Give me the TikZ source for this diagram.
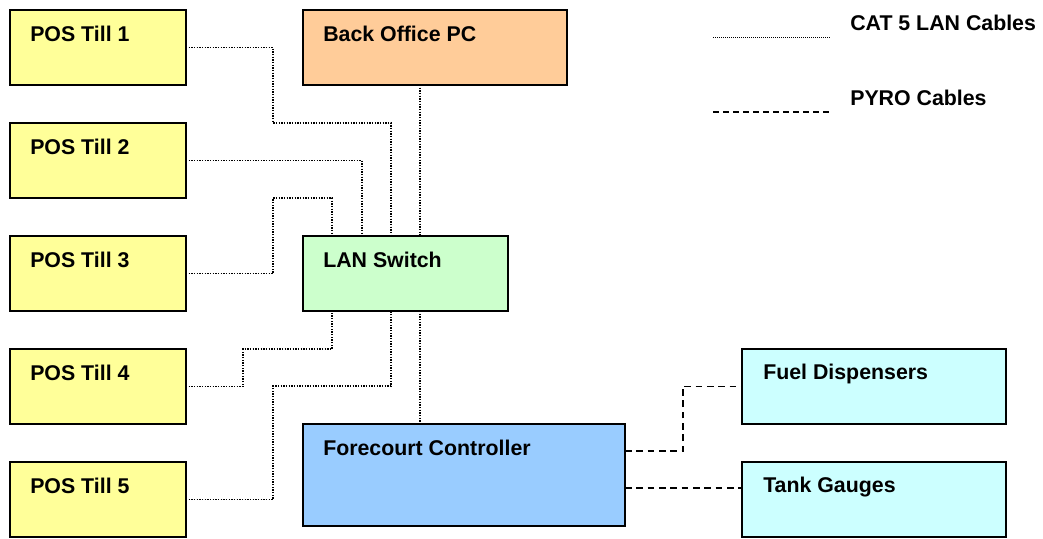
\documentclass[tikz,border=0pt]{standalone}
\usepackage{fontspec}
\setmainfont{Liberation Sans}
\usepackage{tikz}
\usetikzlibrary{calc}

\definecolor{tillyellow}{HTML}{FFFF99}
\definecolor{officeorange}{HTML}{FFCC99}
\definecolor{switchgreen}{HTML}{CCFFCC}
\definecolor{fcblue}{HTML}{99CCFF}
\definecolor{siteaqua}{HTML}{CCFFFF}

\begin{document}
\begin{tikzpicture}[
        x=0.75pt, y=-0.75pt,
        every node/.style={font=\bfseries\fontsize{16}{19}\selectfont},
        unit/.style={draw, line width=1.3pt, anchor=north west, inner sep=0pt, outer sep=0pt},
        till/.style={unit, fill=tillyellow, minimum width=132pt, minimum height=56.25pt},
        office/.style={unit, fill=officeorange, minimum width=198pt, minimum height=56.25pt},
        switch/.style={unit, fill=switchgreen, minimum width=153.75pt, minimum height=56.25pt},
        controller/.style={unit, fill=fcblue, minimum width=241.5pt, minimum height=76.5pt},
        site/.style={unit, fill=siteaqua, minimum width=198pt, minimum height=56.25pt},
        tag/.style={anchor=west, inner sep=0pt},
        lan/.style={line width=1.2pt, dash pattern=on 1pt off 1pt},
        pyro/.style={line width=1.1pt, dash pattern=on 5pt off 3.5pt}
    ]
    \useasboundingbox (0,0) rectangle (1043,539);

    % tills down the left side
    \foreach \i/\ypos in {1/10, 2/123, 3/236, 4/349, 5/462} {
        \node[till] (till\i) at (10,\ypos) {};
        \node[tag] at ($(till\i.north west)+(20,24)$) {POS Till \i};
    }

    \node[office] (office) at (303,10) {};
    \node[tag] at ($(office.north west)+(20,24)$) {Back Office PC};

    \node[switch] (switch) at (303,236) {};
    \node[tag] at ($(switch.north west)+(20,24)$) {LAN Switch};

    \node[controller] (fcc) at (303,424) {};
    \node[tag] at ($(fcc.north west)+(20,24)$) {Forecourt Controller};

    \node[site] (fuel) at (742,349) {};
    \node[tag] at ($(fuel.north west)+(21,25)$) {Fuel Dispensers};

    \node[site] (tank) at (742,462) {};
    \node[tag] at ($(tank.north west)+(21,25)$) {Tank Gauges};

    % CAT 5 runs into the switch
    \draw[lan] (till1.east) -| (273,123) -| ($(switch.north west)+(88,0)$);
    \draw[lan] (till2.east) -| ($(switch.north west)+(59,0)$);
    \draw[lan] (till3.east) -| (273,198) -| ($(switch.north west)+(29,0)$);
    \draw[lan] ($(office.south west)+(117,0)$) -- ($(switch.north west)+(117,0)$);
    \draw[lan] (till4.east) -| (243,349) -| ($(switch.south west)+(29,0)$);
    \draw[lan] (till5.east) -| (273,386) -| ($(switch.south west)+(88,0)$);
    \draw[lan] ($(switch.south west)+(117,0)$) -- ($(fcc.north west)+(117,0)$);

    % pyro runs out of the controller
    \coordinate (fccA) at ($(fcc.north east)+(0,27)$);
    \coordinate (fccB) at ($(fcc.north east)+(0,64)$);
    \draw[pyro] (fccA) -| (683,386) |- (fuel.west);
    \draw[pyro] (fccB) -- (fccB -| tank.west);

    % key
    \coordinate (keyA) at (713,37);
    \coordinate (keyB) at (830,37);
    \coordinate (keyC) at (713,112);
    \coordinate (keyD) at (830,112);
    \draw[line width=0.7pt, dash pattern=on 0.7pt off 0.8pt] (keyA) -- (keyB);
    \draw[line width=0.9pt, dash pattern=on 4.5pt off 3pt] (keyC) -- (keyD);
    \node[tag] at (850,23) {CAT 5 LAN Cables};
    \node[tag] at (850,98) {PYRO Cables};
\end{tikzpicture}
\end{document}
